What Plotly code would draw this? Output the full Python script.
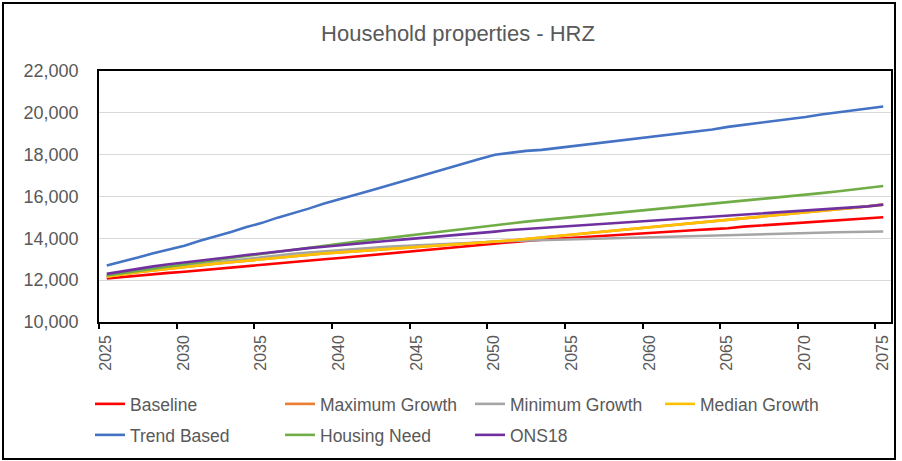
import plotly.graph_objects as go

years = list(range(2025, 2076))

baseline = [12080, 12150, 12220, 12300, 12350, 12400, 12470, 12540, 12600, 12660,
            12720, 12800, 12870, 12930, 13000, 13060, 13130, 13200, 13260, 13340,
            13400, 13470, 13540, 13600, 13670, 13760, 13820, 13880, 13930, 13980,
            14020, 14070, 14110, 14160, 14210, 14250, 14300, 14350, 14400, 14440,
            14480, 14560, 14610, 14650, 14700, 14750, 14800, 14850, 14900, 14950,
            15010]

median_growth = [12170, 12280, 12380, 12460, 12550, 12620, 12700, 12790, 12860, 12930,
                 13000, 13080, 13160, 13220, 13280, 13330, 13380, 13430, 13490, 13540,
                 13580, 13630, 13680, 13730, 13780, 13840, 13900, 13970, 14040, 14100,
                 14170, 14240, 14310, 14370, 14440, 14510, 14580, 14650, 14720, 14790,
                 14860, 14940, 15010, 15080, 15150, 15220, 15300, 15370, 15450, 15530,
                 15610]

# Maximum Growth is hidden beneath Median Growth in the reference
maximum_growth = list(median_growth)

minimum_growth = [12180, 12300, 12400, 12500, 12590, 12670, 12760, 12850, 12930, 13010,
                  13090, 13180, 13260, 13320, 13380, 13430, 13490, 13540, 13590, 13630,
                  13670, 13710, 13750, 13780, 13810, 13840, 13870, 13890, 13920, 13940,
                  13970, 13990, 14010, 14030, 14060, 14080, 14100, 14110, 14130, 14140,
                  14160, 14180, 14190, 14210, 14230, 14250, 14270, 14290, 14300, 14320,
                  14330]

trend_based = [12700, 12880, 13080, 13290, 13470, 13650, 13880, 14080, 14300, 14540,
               14740, 14990, 15200, 15420, 15660, 15860, 16080, 16290, 16500, 16720,
               16930, 17150, 17370, 17570, 17790, 18000, 18100, 18180, 18230, 18320,
               18410, 18500, 18590, 18680, 18770, 18860, 18950, 19020, 19110, 19200,
               19330, 19420, 19510, 19600, 19700, 19800, 19920, 20010, 20100, 20200,
               20300]

housing_need = [12220, 12340, 12450, 12550, 12650, 12740, 12850, 12950, 13060, 13160,
                13250, 13360, 13470, 13560, 13650, 13740, 13830, 13920, 14010, 14100,
                14190, 14290, 14380, 14470, 14560, 14650, 14740, 14800, 14870, 14940,
                15010, 15080, 15150, 15220, 15290, 15360, 15430, 15500, 15570, 15650,
                15720, 15790, 15860, 15940, 16010, 16080, 16160, 16240, 16320, 16400,
                16500]

ons18 = [12300, 12430, 12560, 12660, 12760, 12840, 12930, 13020, 13110, 13200,
         13290, 13380, 13460, 13530, 13600, 13660, 13730, 13800, 13870, 13940,
         14000, 14060, 14120, 14180, 14250, 14320, 14400, 14450, 14500, 14550,
         14600, 14650, 14700, 14750, 14800, 14850, 14900, 14950, 15000, 15040,
         15080, 15120, 15180, 15240, 15290, 15330, 15380, 15420, 15470, 15530,
         15610]

tick_years = list(range(2025, 2076, 5))
y_ticks = list(range(10000, 22001, 2000))

series = [
    ("Baseline", baseline, "#FF0000", "legend"),
    ("Maximum Growth", maximum_growth, "#ED7D31", "legend"),
    ("Minimum Growth", minimum_growth, "#A5A5A5", "legend"),
    ("Median Growth", median_growth, "#FFC000", "legend"),
    ("Trend Based", trend_based, "#4472C4", "legend2"),
    ("Housing Need", housing_need, "#70AD47", "legend2"),
    ("ONS18", ons18, "#7030A0", "legend2"),
]

# categories are centred between tick marks (Excel "between tick marks")
xpos = [y + 0.5 for y in years]

fig = go.Figure()
for name, vals, color, lg in series:
    fig.add_trace(go.Scatter(x=xpos, y=vals, name=name, mode="lines",
                             line=dict(color=color, width=2.6),
                             legend=lg))

FONT = "Liberation Sans, Arial, sans-serif"
GREY = "#595959"

W, H = 902, 461
L, R, T, B = 99, 11, 71, 139
PW, PH = W - L - R, H - T - B

legend_common = dict(orientation="h", entrywidth=145, entrywidthmode="pixels",
                     font=dict(family=FONT, size=17.5, color=GREY),
                     bgcolor="rgba(0,0,0,0)", xanchor="left", yanchor="middle",
                     xref="container", yref="container",
                     itemclick=False, traceorder="normal")

fig.update_layout(
    width=W, height=H,
    margin=dict(l=L, r=R, t=T, b=B, autoexpand=False),
    paper_bgcolor="white", plot_bgcolor="white",
    title=dict(text="Household properties - HRZ", x=458 / W, xref="container",
               xanchor="center", y=1 - 33 / H, yref="container", yanchor="middle",
               font=dict(family=FONT, size=22, color=GREY)),
    xaxis=dict(range=[2025, 2076], tickmode="array", tickvals=tick_years,
               ticktext=[str(t) for t in tick_years], tickangle=-90,
               ticklabelshift=7,
               ticks="outside", ticklen=5, tickcolor="black", tickwidth=1.5,
               showline=True, linecolor="black", linewidth=1.5, mirror=True,
               showgrid=False, zeroline=False, automargin=False,
               tickfont=dict(family=FONT, size=16, color=GREY)),
    yaxis=dict(range=[10000, 22000], tickmode="array", tickvals=y_ticks,
               tickformat=",", showline=True, linecolor="black", linewidth=1.5,
               mirror=True, showgrid=True, gridcolor="#D9D9D9", gridwidth=1.3,
               zeroline=False, ticks="", ticklabelstandoff=15, automargin=False,
               tickfont=dict(family=FONT, size=18, color=GREY)),
    legend=dict(x=90 / W, y=1 - 404 / H, **legend_common),
    legend2=dict(x=90 / W, y=1 - 435 / H, **legend_common),
    shapes=[dict(type="rect", xref="paper", yref="paper",
                 x0=(3 - L) / PW, x1=(895 - L) / PW,
                 y0=1 - (459 - T) / PH, y1=1 - (3 - T) / PH,
                 line=dict(color="black", width=2), fillcolor="rgba(0,0,0,0)",
                 layer="below")],
)

# remove the browser's default 8px page margin so the figure sits at (0, 0)
fig.write_html("out.html", config={"displayModeBar": False},
               post_script="document.body.style.margin='0';document.body.style.overflow='hidden';")
